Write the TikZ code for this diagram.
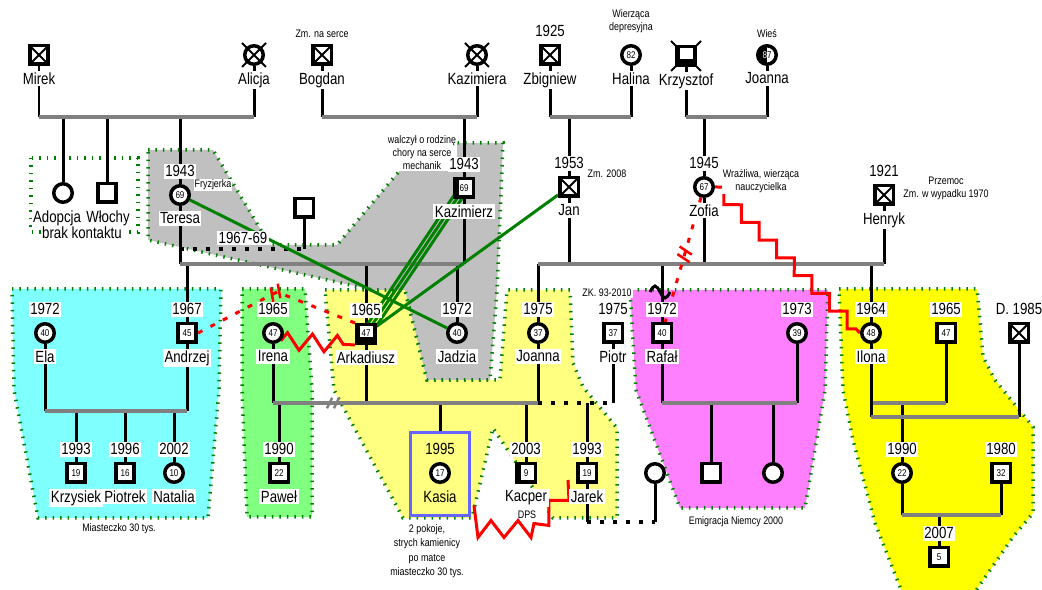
\documentclass[tikz,border=0pt]{standalone}
\usepackage{fontspec}
\setmainfont{Liberation Sans}[FakeStretch=0.82]
\usetikzlibrary{calc,positioning,decorations.pathmorphing,decorations.markings}

\newcommand\namesize{\fontsize{9.2}{10}\selectfont}
\newcommand\notesize{\fontsize{6.2}{7.4}\selectfont}
\newcommand\agesize{\fontsize{5.6}{6}\selectfont}

\definecolor{zcyan}{RGB}{128,255,255}
\definecolor{zgreen}{RGB}{128,255,128}
\definecolor{zyellow}{RGB}{255,255,128}
\definecolor{zmagenta}{RGB}{255,128,255}
\definecolor{zlemon}{RGB}{255,255,0}
\definecolor{zgray}{RGB}{192,192,192}
\definecolor{zborder}{RGB}{0,128,0}

\pgfdeclarelayer{zones}
\pgfdeclarelayer{links}
\pgfsetlayers{zones,links,main}

\tikzset{
genogram/.style={x=0.02cm,y=-0.02cm,label distance=0.1cm},
person/.style={draw,line width=0.07cm,minimum size=0.37cm,inner sep=0pt,fill=white,font=\agesize},
male/.style={person,rectangle},
female/.style={person,circle},
crossed/.style={path picture={\draw[line width=0.04cm] (path picture bounding box.north west) -- (path picture bounding box.south east) (path picture bounding box.south west) -- (path picture bounding box.north east);}},
halfblack/.style={path picture={\fill[black] (path picture bounding box.south west) rectangle ([xshift=#1]path picture bounding box.north);}},
halfblack/.default={-0.1cm},
addict/.style={fill=black,path picture={\fill[white] ([shift={(-0.13cm,0.19cm)}]path picture bounding box.center) rectangle ([shift={(0.13cm,-0.07cm)}]path picture bounding box.center);}},
year/.style={fill=white,inner sep=0.03cm,font=\namesize},
pname/.style={fill=white,inner sep=0.03cm,font=\namesize},
note/.style={fill=white,inner sep=0.02cm,font=\notesize,align=center},
descent/.style={line width=0.06cm},
marriage/.style={draw=gray,line width=0.08cm},
dotline/.style={line width=0.07cm,dash pattern=on 0.08cm off 0.18cm},
fused/.style={draw=zborder,line width=0.06cm},
conflict/.style={draw=red,line width=0.06cm},
cutoff/.style={draw=red,line width=0.06cm,dash pattern=on 0.1cm off 0.18cm},
redcut/.style={postaction={decorate,decoration={markings,mark=at position #1 with {\draw[solid,red,line width=0.05cm] (-3pt,-4pt) -- (-0.5pt,4pt) (1.5pt,-4pt) -- (4pt,4pt);}}}},
graycut/.style={postaction={decorate,decoration={markings,mark=at position #1 with {\draw[solid,gray,line width=0.05cm] (-4pt,-3pt) -- (-1pt,3pt) (0pt,-3pt) -- (3pt,3pt);}}}},
zone/.style={draw=zborder,line width=0.07cm,dash pattern=on 0.03cm off 0.12cm},
}

\begin{document}
\begin{tikzpicture}[genogram]
\useasboundingbox (0,0) rectangle (1042,590);

% grandparents
\node[male,crossed,label={[pname]below:Mirek}] (mirek) at (39,55) {};
\node[female,label={[pname]below:Alicja}] (alicja) at (254,55) {};
\node[male,crossed,label={[pname]below:Bogdan}] (bogdan) at (322,55) {};
\node[note,above=0.1cm of bogdan] (bogdannote) {Zm. na serce};
\node[female,label={[pname]below:Kazimiera}] (kazimiera) at (477,55) {};
\node[male,crossed,label={[year]above:1925},label={[pname]below:Zbigniew}] (zbigniew) at (550,55) {};
\node[female,label={[pname]below:Halina}] (halina) at (631,55) {82};
\node[note,above=0.2cm of halina] (halinanote) {Wierząca\\depresyjna};
\node[male,addict,label={[pname]below:Krzysztof}] (krzysztof) at (686,56) {};
\node[female,halfblack=0cm,label={[pname]below:Joanna}] (joannag) at (767,55) {\textcolor{white}{8}7};
\node[note,above=0.1cm of joannag] (joannanote) {Wieś};

% parents
\node[female,label={[pname,xshift=-0.12cm]below:Adopcja}] (adopcja) at (63,193) {};
\node[male,label={[pname,xshift=0.02cm]below:Włochy}] (wlochy) at (107,193) {};
\node[pname] (brak) at (82,233) {brak kontaktu};
\node[female,label={[year]above:1943},label={[pname]below:Teresa}] (teresa) at (180,195) {69};
\node[note] (teresanote) at (213,185) {Fryzjerka};
\node[male] (exm) at (304,208) {};
\node[year] (divorce) at (243,238) {1967-69};
\node[note] (kaznote) at (422,153) {walczył o rodzinę\\chory na serce\\mechanik};
\node[male,halfblack,label={[year]above:1943},label={[pname]below:Kazimierz}] (kazimierz) at (464,188) {69};
\node[male,crossed,label={[year]above:1953},label={[pname]below:Jan}] (jan) at (569,187) {};
\node[note] (jannote) at (607,174) {Zm. 2008};
\node[female,label={[year]above:1945},label={[pname]below:Zofia}] (zofia) at (704,187) {67};
\node[note] (zofianote) at (761,181) {Wrażliwa, wierząca\\nauczycielka};
\node[male,crossed,label={[year]above:1921},label={[pname]below:Henryk}] (henryk) at (884,195) {};
\node[note] (henryknote) at (946,188) {Przemoc\\Zm. w wypadku 1970};

% children
\node[female,label={[year]above:1972},label={[pname]below:Ela}] (ela) at (45,333) {40};
\node[male,label={[year]above:1967},label={[pname]below:Andrzej}] (andrzej) at (187,333) {45};
\node[female,label={[year]above:1965},label={[pname]below:Irena}] (irena) at (273,333) {47};
\node[male,addict,label={[year]above:1965},label={[pname]below:Arkadiusz}] (arkadiusz) at (366,334) {\raisebox{0.05cm}{47}};
\node[female,label={[year]above:1972},label={[pname]below:Jadzia}] (jadzia) at (457,333) {40};
\node[female,label={[year]above:1975},label={[pname]below:Joanna}] (joanna) at (538,333) {37};
\node[male,label={[year]above:1975},label={[pname]below:Piotr}] (piotr) at (613,333) {37};
\node[note] (piotrnote) at (607,293) {ZK. 93-2010};
\node[male,label={[year]above:1972},label={[pname]below:Rafał}] (rafal) at (662,333) {40};
\node[female,label={[year]above:1973}] (zona) at (797,333) {39};
\node[female,label={[year]above:1964},label={[pname]below:Ilona}] (ilona) at (871,333) {48};
\node[male,label={[year]above:1965}] (maz) at (946,333) {47};
\node[male,crossed,label={[year]above:D. 1985}] (drugi) at (1019,333) {};

% grandchildren
\node[male,label={[year]above:1993},label={[pname]below:Krzysiek}] (krzysiek) at (76,473) {19};
\node[male,label={[year]above:1996},label={[pname]below:Piotrek}] (piotrek) at (125,473) {16};
\node[female,label={[year]above:2002},label={[pname]below:Natalia}] (natalia) at (174,473) {10};
\node[note,fill=none] (miasto) at (119,529) {Miasteczko 30 tys.};
\node[male,label={[year]above:1990},label={[pname]below:Paweł}] (pawel) at (279,473) {22};
\node[draw=blue!60!white,line width=0.06cm,minimum width=1.18cm,minimum height=1.68cm] (kasiabox) at (440,474) {};
\node[female,label={[year,fill=none]above:1995},label={[pname,fill=none]below:Kasia}] (kasia) at (440,473) {17};
\node[note,fill=none,font=\fontsize{6.2}{8.2}\selectfont] (kasianote) at (427,551) {2 pokoje,\\strych kamienicy\\po matce\\miasteczko 30 tys.};
\node[male,halfblack,label={[year]above:2003},label={[pname]below:Kacper}] (kacper) at (526,473) {9};
\node[note,fill=none] (dps) at (527,515) {DPS};
\node[male,label={[year]above:1993},label={[pname]below:Jarek}] (jarek) at (587,473) {19};
\node[female] (jarekzona) at (655,473) {};
\node[male] (rafsyn) at (711,473) {};
\node[female] (rafcorka) at (773,473) {};
\node[note,fill=none] (emigracja) at (736,522) {Emigracja Niemcy 2000};
\node[female,label={[year]above:1990}] (corka) at (902,473) {22};
\node[male,label={[year]above:1980}] (ziec) at (1001,473) {32};
\node[male,label={[year]above:2007}] (wnuk) at (939,557) {5};

% dead women
\foreach \p in {alicja,kazimiera}
  \draw[line width=0.04cm] ($(\p)+(-12,-12)$) -- ($(\p)+(12,12)$) ($(\p)+(-12,12)$) -- ($(\p)+(12,-12)$);

\begin{pgfonlayer}{links}
\draw[line width=0.04cm] ($(krzysztof)+(-15,-15)$) -- ($(krzysztof)+(15,15)$) ($(krzysztof)+(-15,15)$) -- ($(krzysztof)+(15,-15)$);
% first generation
\coordinate (m1) at (0,117);
\foreach \p in {mirek,alicja,bogdan,kazimiera,zbigniew,halina,krzysztof,joannag,adopcja,wlochy,teresa,kazimierz,jan,zofia}
  \draw[descent] (\p) -- (\p |- m1);
\draw[marriage] (mirek |- m1) -- (alicja |- m1);
\draw[marriage] (bogdan |- m1) -- (kazimiera |- m1);
\draw[marriage] (zbigniew |- m1) -- (halina |- m1);
\draw[marriage] (krzysztof |- m1) -- (joannag |- m1);
% second generation
\coordinate (m2) at (0,249);
\coordinate (m3) at (0,264);
\draw[descent] (exm) -- (exm |- m2);
\draw[dotline] (teresa |- m2) -- (exm |- m2);
\foreach \p in {teresa,kazimierz,andrzej,arkadiusz,jadzia,jan,zofia,henryk,joanna,rafal,ilona}
  \draw[descent] (\p) -- (\p |- m3);
\draw[marriage] (teresa |- m3) -- (kazimierz |- m3);
\draw[marriage] (joanna |- m3) -- (henryk |- m3);
% third generation
\coordinate (m4) at (0,403);
\coordinate (m5) at (0,411);
\coordinate (m6) at (0,417);
\foreach \p in {ela,andrzej,krzysiek,piotrek,natalia}
  \draw[descent] (\p) -- (\p |- m5);
\draw[marriage] (ela |- m5) -- (andrzej |- m5);
\foreach \p in {irena,arkadiusz,joanna,piotr,pawel,kacper,jarek,rafal,zona,rafsyn,rafcorka,maz,corka}
  \draw[descent] (\p) -- (\p |- m4);
\draw[descent] (kasiabox) -- (kasiabox |- m4);
\draw[marriage,graycut=0.23] (irena |- m4) -- (joanna |- m4);
\draw[dotline] (joanna |- m4) -- (piotr |- m4);
\draw[marriage] (rafal |- m4) -- (zona |- m4);
\draw[marriage] (ilona |- m4) -- (maz |- m4);
\foreach \p in {ilona,drugi}
  \draw[descent] (\p) -- (\p |- m6);
\draw[marriage] (ilona |- m6) -- (drugi |- m6);
% fourth generation
\coordinate (m7) at (0,522);
\coordinate (m8) at (0,515);
\draw[descent] (jarek) -- (jarek |- m7);
\draw[descent] (jarekzona) -- (jarekzona |- m7);
\draw[dotline] (jarek |- m7) -- (jarekzona |- m7);
\foreach \p in {corka,ziec,wnuk}
  \draw[descent] (\p) -- (\p |- m8);
\draw[marriage] (corka |- m8) -- (ziec |- m8);
\draw[descent] ($(rafal)+(-12,-41)$) sin ++(5,-6) cos ++(5,6) sin ++(5,6) cos ++(5,-6);
% relations
\draw[fused] (teresa) -- (jadzia);
\draw[fused] (jan) -- (arkadiusz);
\foreach \d in {-5,0,5}
  \draw[fused] ($(kazimierz.center)+(\d,0)$) -- ($(arkadiusz.center)+(\d,0)$);
\coordinate (cut1) at (277,292);
\draw[cutoff,redcut=0.5] (andrzej.east) -- (cut1) -- (arkadiusz.north west);
\draw[cutoff,redcut=0.45] (zofia) -- (rafal);
\draw[conflict,decorate,decoration={zigzag,segment length=0.5cm,amplitude=0.17cm}] (irena.south east) -- (arkadiusz.south west);
\draw[conflict,decorate,decoration={zigzag,segment length=0.5cm,amplitude=0.125cm}] (zofia.east) -- (ilona.west);
\draw[conflict] ($(kasiabox.south east)+(3,-12)$) -- ++(4,32) -- ++(13,-17) -- ++(13,17) -- ++(14,-17) -- ++(13,17) -- ++(3,-14) -- ++(15,2) -- ++(0,-25) -- ++(20,0) -- ($(jarek.west)+(-8,7)$);
\end{pgfonlayer}

\begin{pgfonlayer}{zones}
\draw[zone] (31,158) rectangle (138,232);
\draw[zone,fill=zcyan] (12,289) -- (221,289) -- (219,390) -- (208,518) -- (38,518) -- (14,390) -- cycle;
\draw[zone,fill=zgreen] (242,289) -- (305,289) -- (312,390) -- (312,517) -- (247,517) -- (242,390) -- cycle;
\draw[zone,fill=zyellow] (325,290) -- (405,290) -- (427,380) -- (490,380) -- (500,380) -- (507,290) -- (570,290) -- (573,363) -- (583,387) -- (617,428) -- (617,518) -- (553,518) -- (493,428) -- (472,518) -- (403,518) -- (334,390) -- cycle;
\draw[zone,fill=zgray] (148,150) -- (213,150) -- (262,232) -- (267,245) -- (337,245) -- (423,143) -- (503,143) -- (497,290) -- (490,380) -- (427,380) -- (405,290) -- (373,290) -- (148,240) -- cycle;
\draw[zone,fill=zmagenta] (630,290) -- (828,290) -- (825,390) -- (805,508) -- (680,508) -- (636,390) -- cycle;
\draw[zone,fill=zlemon] (839,289) -- (977,289) -- (980,320) -- (983,357) -- (995,380) -- (1033,427) -- (1033,513) -- (1013,537) -- (975,592) -- (902,592) -- (875,523) -- (853,440) -- (843,390) -- cycle;
\end{pgfonlayer}
\end{tikzpicture}
\end{document}
